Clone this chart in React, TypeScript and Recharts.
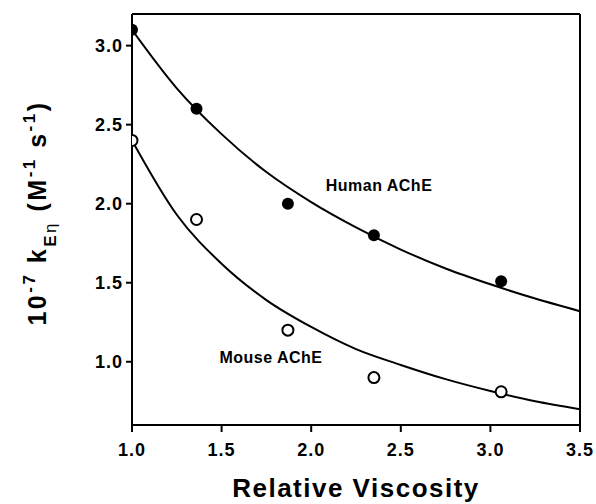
import React from 'react';
import { ComposedChart, Line, Scatter, XAxis, YAxis, ReferenceLine } from 'recharts';

// measured points (relative viscosity vs 10^-7 k)
const viscosity = [1.0, 1.36, 1.87, 2.35, 3.06];
const humanK = [3.1, 2.6, 2.0, 1.8, 1.51];
const mouseK = [2.4, 1.9, 1.2, 0.9, 0.81];

// fitted curves
const fitX = [1.0, 1.25, 1.5, 1.75, 2.0, 2.25, 2.5, 2.75, 3.0, 3.25, 3.5];
const humanFitK = [3.1, 2.73, 2.44, 2.2, 2.01, 1.85, 1.71, 1.59, 1.49, 1.4, 1.32];
const mouseFitK = [2.4, 1.93, 1.62, 1.39, 1.22, 1.08, 0.98, 0.89, 0.815, 0.75, 0.7];

const xTicks = [1.0, 1.5, 2.0, 2.5, 3.0, 3.5];
const yTicks = [1.0, 1.5, 2.0, 2.5, 3.0];

const humanPts = viscosity.map((x, i) => ({ x, y: humanK[i] }));
const mousePts = viscosity.map((x, i) => ({ x, y: mouseK[i] }));
const humanFit = fitX.map((x, i) => ({ x, y: humanFitK[i] }));
const mouseFit = fitX.map((x, i) => ({ x, y: mouseFitK[i] }));

const FONT = '"Liberation Sans", Arial, Helvetica, sans-serif';

const FilledDot = (props: any) => <circle cx={props.cx} cy={props.cy} r={6} fill="#000" />;
const OpenDot = (props: any) => (
  <circle cx={props.cx} cy={props.cy} r={5.5} fill="#fff" stroke="#000" strokeWidth={2} />
);

const YLabel = () => {
  const cx = 46;
  const cy = 213;
  return (
    <text
      x={cx}
      y={cy}
      transform={`rotate(-90, ${cx}, ${cy})`}
      textAnchor="middle"
      fontFamily={FONT}
      fontWeight="bold"
      fontSize={25}
      letterSpacing={2.5}
      fill="#000"
    >
      <tspan>10</tspan>
      <tspan fontSize={17} dy={-11}>-7</tspan>
      <tspan dy={11}> k</tspan>
      <tspan fontSize={17} dy={10}>E</tspan>
      <tspan fontSize={17} fontWeight="normal">η</tspan>
      <tspan dy={-10}> (M</tspan>
      <tspan fontSize={17} dy={-11}>-1</tspan>
      <tspan dy={11}> s</tspan>
      <tspan fontSize={17} dy={-11}>-1</tspan>
      <tspan dy={11}>)</tspan>
    </text>
  );
};

const tickStyle = { fill: '#000', fontSize: 18, fontWeight: 'bold' as const, fontFamily: FONT, letterSpacing: 1 };

export default function App() {
  return (
    <div style={{ position: 'absolute', left: 0, top: 0, background: '#fff' }}>
      <ComposedChart width={596} height={504} margin={{ top: 14, right: 16, bottom: 39, left: 72 }}>
        <XAxis
          type="number"
          dataKey="x"
          domain={[1.0, 3.5]}
          ticks={xTicks}
          tickFormatter={(v: number) => v.toFixed(1)}
          tick={tickStyle}
          tickSize={7}
          tickMargin={11}
          stroke="#000"
          strokeWidth={2}
          height={40}
          allowDataOverflow
          label={{
            value: 'Relative Viscosity',
            position: 'insideBottom',
            offset: -32,
            fill: '#000',
            fontSize: 26,
            fontWeight: 'bold',
            fontFamily: FONT,
            letterSpacing: 1.5,
          }}
        />
        <YAxis
          type="number"
          dataKey="y"
          domain={[0.6, 3.2]}
          ticks={yTicks}
          tickFormatter={(v: number) => v.toFixed(1)}
          tick={tickStyle}
          tickSize={6}
          tickMargin={3}
          stroke="#000"
          strokeWidth={2}
          width={60}
          allowDataOverflow
          label={<YLabel />}
        />
        <ReferenceLine y={3.2} stroke="#000" strokeWidth={2} ifOverflow="visible" />
        <ReferenceLine x={3.5} stroke="#000" strokeWidth={2} ifOverflow="visible" />
        <Line data={humanFit} dataKey="y" type="monotone" stroke="#000" strokeWidth={2} dot={false} isAnimationActive={false} />
        <Line data={mouseFit} dataKey="y" type="monotone" stroke="#000" strokeWidth={2} dot={false} isAnimationActive={false} />
        <Scatter data={humanPts} dataKey="y" shape={<FilledDot />} isAnimationActive={false} />
        <Scatter data={mousePts} dataKey="y" shape={<OpenDot />} isAnimationActive={false} />
        <text x={379} y={191} textAnchor="middle" fontFamily={FONT} fontWeight="bold" fontSize={16} letterSpacing={0.5} fill="#000">
          Human AChE
        </text>
        <text x={271} y={363} textAnchor="middle" fontFamily={FONT} fontWeight="bold" fontSize={16} letterSpacing={0.5} fill="#000">
          Mouse AChE
        </text>
      </ComposedChart>
    </div>
  );
}
